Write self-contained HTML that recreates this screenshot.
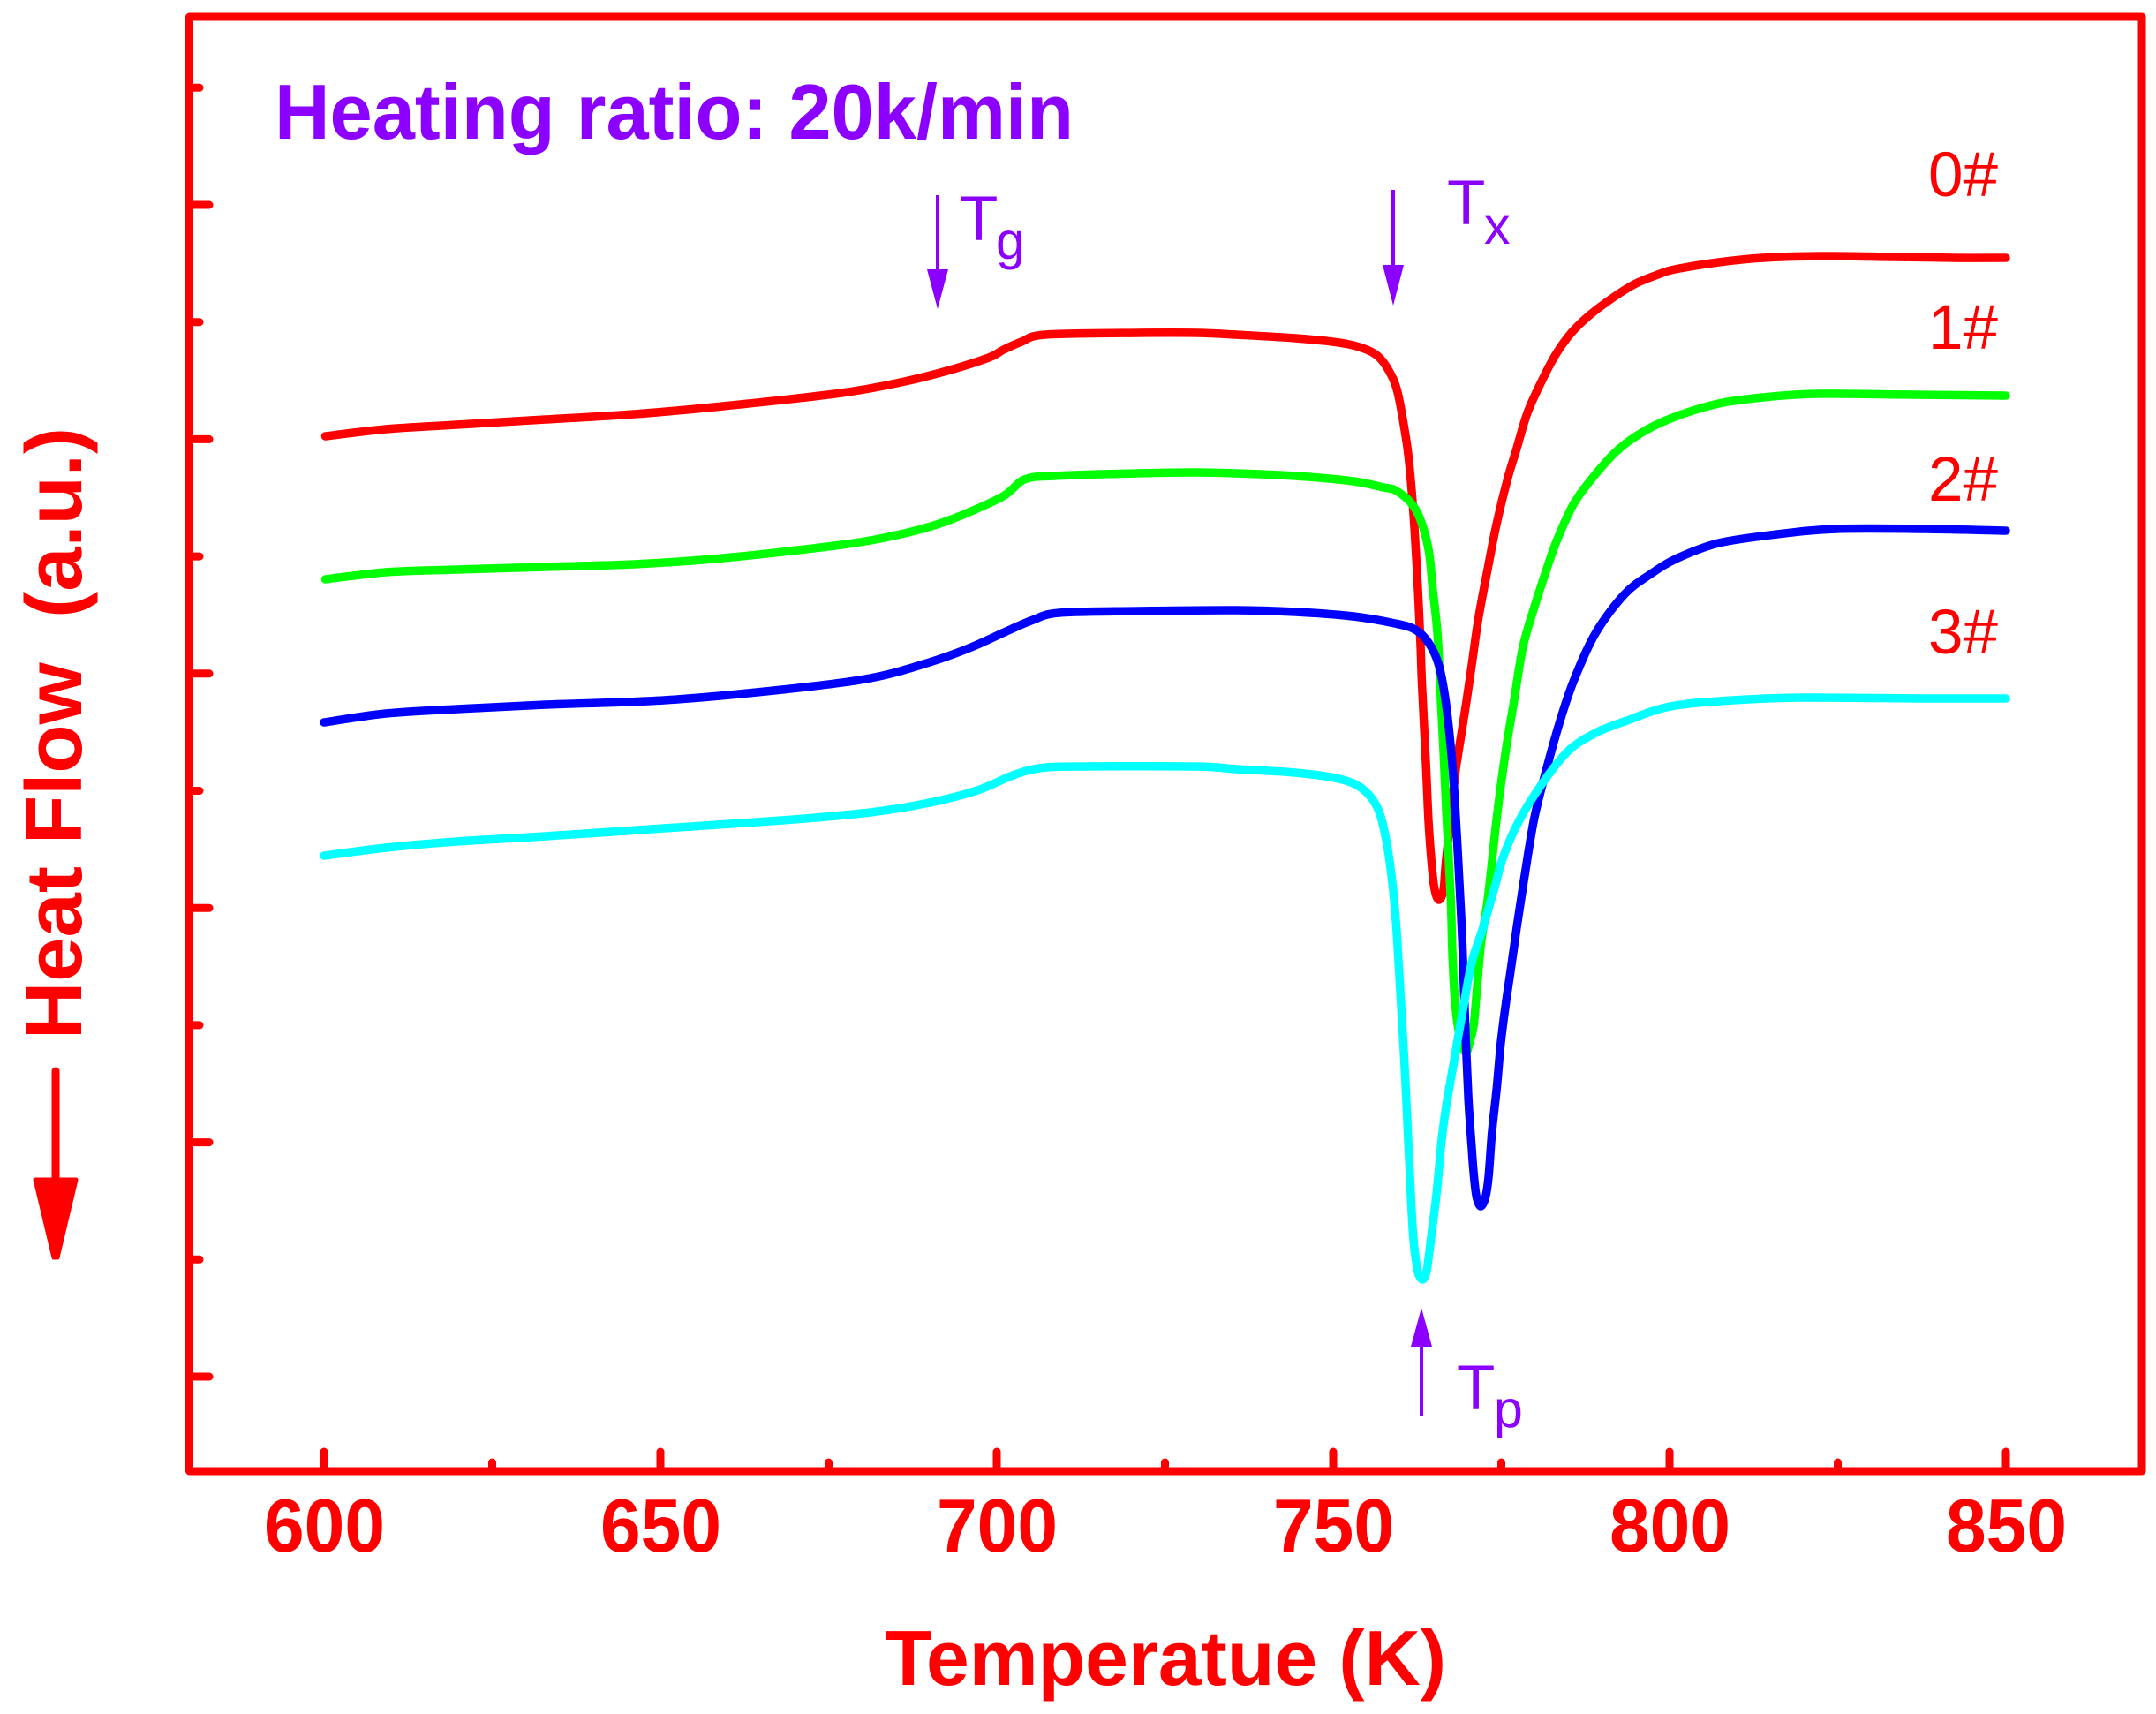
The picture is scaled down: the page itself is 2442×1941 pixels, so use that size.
<!DOCTYPE html>
<html lang="en">
<head>
<meta charset="utf-8">
<title>Heat Flow vs Temperature</title>
<style>
html,body{margin:0;padding:0;background:#fff;}
svg{display:block;}
text{font-family:"Liberation Sans",Arial,sans-serif;white-space:pre;}
</style>
</head>
<body>
<svg id="chart" xmlns="http://www.w3.org/2000/svg" width="2442" height="1941" viewBox="0 0 2442 1941">
  <rect x="0" y="0" width="2442" height="1941" fill="#ffffff"/>
  <g id="series"></g>
  <rect x="214.5" y="19" width="2211.5" height="1647" fill="none" stroke="#ff0000" stroke-width="9" stroke-linejoin="round"/>
  <g id="ticks"></g>

  <text x="311" y="157" font-size="88" font-weight="bold" fill="#8b00ff" textLength="905" lengthAdjust="spacingAndGlyphs">Heating ratio: 20k/min</text>

  <text x="1002" y="1908" font-size="88" font-weight="bold" fill="#ff0000" textLength="636" lengthAdjust="spacingAndGlyphs">Temperatue (K)</text>
  <text transform="translate(92,1177) rotate(-90)" x="0" y="0" font-size="90" font-weight="bold" fill="#ff0000" textLength="693" lengthAdjust="spacingAndGlyphs">Heat Flow  (a.u.)</text>

  <g>
    <line x1="63" y1="1213" x2="63" y2="1340" stroke="#ff0000" stroke-width="9" stroke-linecap="round"/>
    <polygon points="40,1336 86,1336 65,1424 61,1424" fill="#ff0000" stroke="#ff0000" stroke-width="5" stroke-linejoin="round"/>
  </g>

  <g>
    <line x1="1062" y1="221" x2="1062" y2="310" stroke="#8b00ff" stroke-width="4"/>
    <polygon points="1050,305 1074,305 1062,350" fill="#8b00ff"/>
    <text x="1087" y="272" font-size="71" fill="#8b00ff">T</text>
    <text x="1128" y="293" font-size="59" fill="#8b00ff">g</text>
  </g>
  <g>
    <line x1="1578" y1="215" x2="1578" y2="305" stroke="#8b00ff" stroke-width="4"/>
    <polygon points="1566,300 1590,300 1578,346" fill="#8b00ff"/>
    <text x="1639" y="254" font-size="71" fill="#8b00ff">T</text>
    <text x="1681" y="276" font-size="59" fill="#8b00ff">x</text>
  </g>
  <g>
    <line x1="1610" y1="1520" x2="1610" y2="1603" stroke="#8b00ff" stroke-width="4"/>
    <polygon points="1598,1525 1622,1525 1610,1481" fill="#8b00ff"/>
    <text x="1650" y="1596" font-size="71" fill="#8b00ff">T</text>
    <text x="1692" y="1616" font-size="59" fill="#8b00ff">p</text>
  </g>

  <text x="2263" y="222" font-size="71" fill="#ff0000" text-anchor="end">0#</text>
  <text x="2263" y="395" font-size="71" fill="#ff0000" text-anchor="end">1#</text>
  <text x="2263" y="567" font-size="71" fill="#ff0000" text-anchor="end">2#</text>
  <text x="2263" y="740" font-size="71" fill="#ff0000" text-anchor="end">3#</text>
</svg>

<script>
// Temperature tick values (K)
const xTickValues = [600, 625, 650, 675, 700, 725, 750, 775, 800, 825, 850];
const xTickLabels = ["600", "", "650", "", "700", "", "750", "", "800", "", "850"];
// Heat-flow ticks (a.u., unlabelled)
const yTickValues = [0, 132.7, 265.4, 398.1, 530.8, 663.5, 796.2, 928.9, 1061.6, 1194.3, 1327, 1459.7];

// Series 0#
const temp0 = [600.2,609.2,619.7,632.9,646.1,659.3,676.9,685.7,692.6,698.8,701.0,703.7,707.2,720.9,729.7,735.6,744.4,750.9,754.3,756.6,758.3,759.6,760.9,761.5,762.1,762.6,763.0,763.2,763.8,764.2,764.7,765.1,765.7,766.4,766.8,768.1,768.6,769.7,770.6,771.6,773.0,774.3,775.9,777.2,778.9,781.1,783.2,785.4,788.1,791.6,795,798.6,800.8,807.3,813.9,822.6,833.6,842.3,850];
const flow0 = [1065,1073,1078,1084,1090,1099,1114,1126,1139,1154,1163,1172,1180,1182,1182,1180,1176,1171,1165,1156,1139,1114,1059,1019,959,892,826,784,692,626,576,551,540,551,586,679,706,759,806,859,916,966,1016,1049,1092,1129,1159,1182,1202,1222,1238,1249,1254,1262,1267,1269,1268,1267,1267];

// Series 1#
const temp1 = [600.2,609.2,619.7,632.9,646.1,659.3,676.9,685.7,692.6,700.7,704.1,708.5,720.9,729.7,735.6,744.4,753.0,757.5,759.2,761.4,762.9,764.2,764.8,765.5,766.0,766.4,766.8,767.5,767.7,768.1,768.8,769.7,770.3,770.9,771.4,772.0,773.0,774.3,775.6,776.9,778.2,779.8,781.5,783.2,785.8,789.0,792.4,796.3,800.8,807.3,813.9,821.8,836.2,850];
const flow1 = [903,911,914,917,920,927,942,954,969,996,1016,1020,1023,1024,1023,1020,1014,1007,1004,991,972,936,892,842,769,709,642,539,484,426,386,367,379,399,442,492,542,632,706,766,826,869,909,946,989,1022,1050,1071,1087,1102,1109,1113,1112,1111];

// Series 2#
const temp2 = [600,609.2,619.7,632.9,650.5,668.1,681.2,690,696.2,701.4,705.4,709.3,720.9,735.6,744.4,753,759.2,762.2,764.2,765.7,766.7,767.5,768.1,768.8,769.2,769.7,770.1,770.6,770.9,771.3,771.9,772.6,773.1,773.6,774.3,774.9,775.6,776.5,777.3,778.3,779.8,781.5,783.7,785.8,789.0,793.3,797.2,801.2,807.3,816,824.8,837.9,850];
const flow2 = [741,751,756,761,766,778,791,809,826,844,857,865,867,868,866,861,853,846,831,806,766,712,652,554,492,384,314,259,229,204,193,202,226,276,326,376,419,466,509,559,629,682,742,789,842,886,909,927,944,954,960,960,958];

// Series 3#
const temp3 = [600,609.2,619.7,632.9,650.5,668.1,681.2,690,697.1,702.4,706.3,711.9,729.7,735.6,744.4,750.9,754.3,756.6,757.9,758.8,759.4,759.8,760.5,760.9,761.4,761.9,762.5,762.9,763.3,763.6,764,764.7,765.4,766.1,766.8,768,769.3,770.6,772.3,774,775.3,777.6,781.1,785,789,793.3,800.1,809.3,819.5,837.9,850];
const flow3 = [590,599,606,612,621,630,639,650,664,681,689,691,691,688,684,677,666,644,607,559,509,459,369,309,229,159,122,113,110,113,124,166,209,266,306,359,416,469,509,554,589,629,672,709,729,742,759,766,769,768,768];

const seriesNames = ["0#", "1#", "2#", "3#"];
const seriesColors = ["#ff0000", "#00ff00", "#0000ff", "#00ffff"];
const seriesTemps = [temp0, temp1, temp2, temp3];
const seriesFlows = [flow0, flow1, flow2, flow3];

// Axis functions
function xScale(t) { return 367 + (t - 600) * 7.62; }
function yScale(v) { return 1559 - v; }

const NS = "http://www.w3.org/2000/svg";
const seriesLayer = document.getElementById("series");
const tickLayer = document.getElementById("ticks");

function smoothPath(pts) {
  let d = "M" + pts[0][0].toFixed(1) + " " + pts[0][1].toFixed(1);
  const k = 0.16;
  for (let i = 0; i < pts.length - 1; i++) {
    const p0 = pts[Math.max(0, i - 1)];
    const p1 = pts[i];
    const p2 = pts[i + 1];
    const p3 = pts[Math.min(pts.length - 1, i + 2)];
    const c1x = p1[0] + (p2[0] - p0[0]) * k;
    const c1y = p1[1] + (p2[1] - p0[1]) * k;
    const c2x = p2[0] - (p3[0] - p1[0]) * k;
    const c2y = p2[1] - (p3[1] - p1[1]) * k;
    d += "C" + c1x.toFixed(1) + " " + c1y.toFixed(1) + " " + c2x.toFixed(1) + " " + c2y.toFixed(1) + " " + p2[0].toFixed(1) + " " + p2[1].toFixed(1);
  }
  return d;
}

seriesNames.forEach(function (name, s) {
  const pts = seriesTemps[s].map(function (t, i) {
    return [xScale(t), yScale(seriesFlows[s][i])];
  });
  const path = document.createElementNS(NS, "path");
  path.setAttribute("d", smoothPath(pts));
  path.setAttribute("fill", "none");
  path.setAttribute("stroke", seriesColors[s]);
  path.setAttribute("stroke-width", "9.5");
  path.setAttribute("stroke-linecap", "round");
  path.setAttribute("stroke-linejoin", "round");
  
  
  seriesLayer.appendChild(path);
});

xTickValues.forEach(function (t, i) {
  const major = xTickLabels[i] !== "";
  const x = xScale(t);
  const line = document.createElementNS(NS, "line");
  line.setAttribute("x1", x);
  line.setAttribute("x2", x);
  line.setAttribute("y1", 1664);
  line.setAttribute("y2", major ? 1644 : 1656);
  line.setAttribute("stroke", "#ff0000");
  line.setAttribute("stroke-width", "9");
  line.setAttribute("stroke-linecap", "round");
  
  
  tickLayer.appendChild(line);
  if (major) {
    const label = document.createElementNS(NS, "text");
    label.textContent = xTickLabels[i];
    label.setAttribute("x", x - 68);
    label.setAttribute("y", 1757);
    label.setAttribute("font-size", "85");
    label.setAttribute("font-weight", "bold");
    label.setAttribute("fill", "#ff0000");
    label.setAttribute("textLength", "137");
    label.setAttribute("lengthAdjust", "spacingAndGlyphs");
    
    
    tickLayer.appendChild(label);
  }
});

yTickValues.forEach(function (v, i) {
  const major = i % 2 === 0;
  const y = yScale(v);
  const line = document.createElementNS(NS, "line");
  line.setAttribute("x1", 216);
  line.setAttribute("x2", major ? 237 : 226);
  line.setAttribute("y1", y);
  line.setAttribute("y2", y);
  line.setAttribute("stroke", "#ff0000");
  line.setAttribute("stroke-width", "9");
  line.setAttribute("stroke-linecap", "round");
  
  
  tickLayer.appendChild(line);
});
</script>
</body>
</html>
